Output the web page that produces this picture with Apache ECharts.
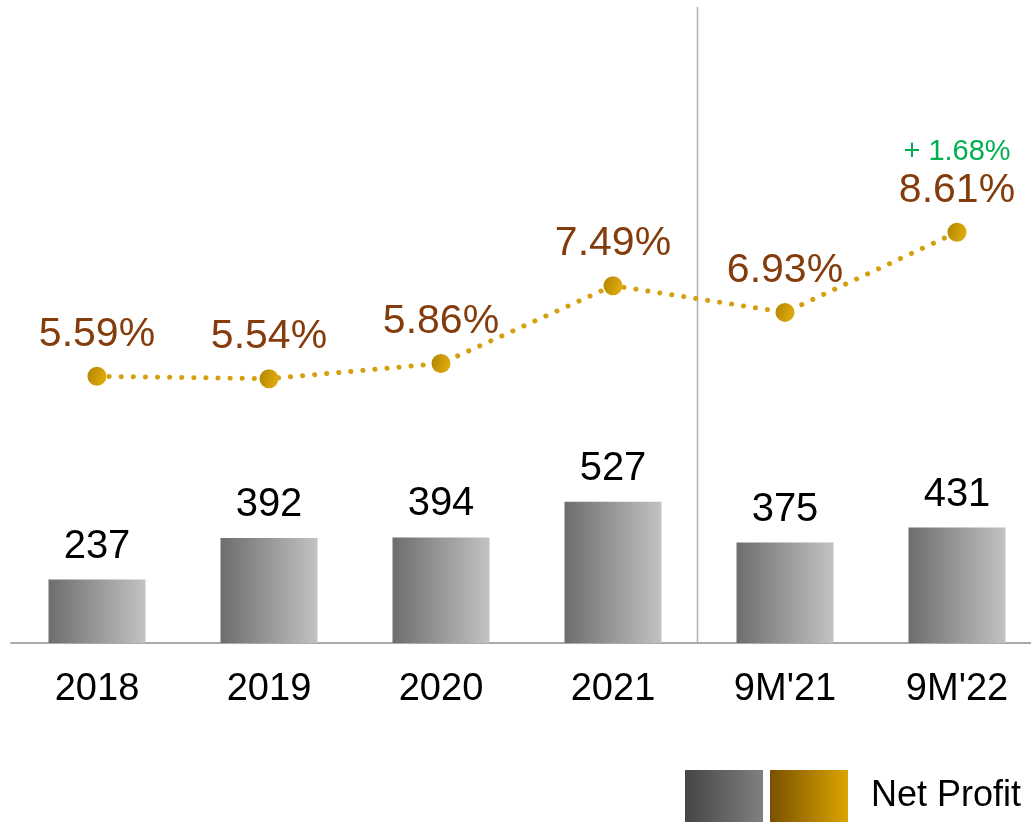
<!DOCTYPE html>
<html>
<head>
<meta charset="utf-8">
<script src="https://cdn.jsdelivr.net/npm/echarts@6/dist/echarts.min.js"></script>
<style>
  html, body { margin: 0; padding: 0; background: #fff; }
  #chart { width: 1031px; height: 823px; }
</style>
</head>
<body>
<div id="chart"></div>
<script>
  const categories = ['2018', '2019', '2020', '2021', "9M'21", "9M'22"];
  const netProfit = [237, 392, 394, 527, 375, 431];
  const margin = [5.59, 5.54, 5.86, 7.49, 6.93, 8.61];
  const marginChange = '+ 1.68%';

  const chart = echarts.init(document.getElementById('chart'));

  const barGradient = new echarts.graphic.LinearGradient(0, 0, 1, 0, [
    { offset: 0, color: '#6d6d6d' },
    { offset: 1, color: '#c2c2c2' }
  ]);
  const markerGradient = new echarts.graphic.LinearGradient(0, 0, 1, 0.3, [
    { offset: 0, color: '#b08400' },
    { offset: 1, color: '#deaa0c' }
  ]);

  const lineData = margin.map((v, i) => {
    if (i === margin.length - 1) {
      return {
        value: v,
        label: {
          formatter: '{g|' + marginChange + '}\n{b|{c}%}'
        }
      };
    }
    return v;
  });

  const option = {
    animation: false,
    textStyle: { fontFamily: 'Liberation Sans, Arial, sans-serif' },
    grid: { left: 11, width: 1032, top: 8, bottom: 180, outerBoundsMode: 'none', containLabel: false },
    legend: {
      left: 685,
      top: 770,
      padding: 0,
      itemWidth: 78,
      itemHeight: 52,
      itemGap: 7,
      icon: 'rect',
      selectedMode: false,
      data: [
        {
          name: 'Net Profit Bar',
          itemStyle: {
            color: new echarts.graphic.LinearGradient(0, 0, 1, 0, [
              { offset: 0, color: '#454545' },
              { offset: 1, color: '#808080' }
            ])
          }
        },
        {
          name: 'Net Profit',
          itemStyle: {
            color: new echarts.graphic.LinearGradient(0, 0, 1, 0, [
              { offset: 0, color: '#7a5200' },
              { offset: 1, color: '#dca500' }
            ])
          }
        }
      ],
      formatter: function (name) {
        return name === 'Net Profit' ? name : '';
      },
      textStyle: { fontSize: 36, color: '#000', padding: [4, 0, 0, 18] }
    },
    xAxis: {
      type: 'category',
      data: categories,
      boundaryGap: true,
      axisLine: { lineStyle: { color: '#aaaaaa', width: 2 } },
      axisTick: { show: false },
      axisLabel: { fontSize: 38, color: '#000', margin: 28 }
    },
    yAxis: [
      { type: 'value', min: 0, max: 2370, show: false, splitLine: { show: false } },
      { type: 'value', min: 0, max: 13.31, show: false, splitLine: { show: false } }
    ],
    series: [
      {
        name: 'Net Profit Bar',
        type: 'bar',
        yAxisIndex: 0,
        barWidth: 97,
        data: netProfit,
        itemStyle: { color: barGradient },
        label: {
          show: true,
          position: 'top',
          distance: 13,
          fontSize: 40,
          color: '#000'
        }
      },
      {
        name: 'Net Profit',
        type: 'line',
        yAxisIndex: 1,
        data: lineData,
        symbol: 'circle',
        symbolSize: 19,
        itemStyle: { color: markerGradient },
        lineStyle: { color: '#d4a010', width: 5, type: [0.1, 12], cap: 'round' },
        z: 5,
        label: {
          show: true,
          position: 'top',
          distance: 12,
          formatter: '{c}%',
          fontSize: 41,
          color: '#843c0c',
          rich: {
            g: { fontSize: 29, color: '#00b050', lineHeight: 38 },
            b: { fontSize: 41, color: '#843c0c', lineHeight: 40 }
          }
        }
      }
    ]
  };

  chart.setOption(option);

  // separator between full years and nine-month figures
  const x3 = chart.convertToPixel({ xAxisIndex: 0 }, categories[3]);
  const x4 = chart.convertToPixel({ xAxisIndex: 0 }, categories[4]);
  const y0 = chart.convertToPixel({ yAxisIndex: 0 }, 0);
  const sepX = Math.round((x3 + x4) / 2) - 1.5;
  chart.setOption({
    graphic: [{
      type: 'line',
      z: 0,
      shape: { x1: sepX, y1: 7, x2: sepX, y2: y0 },
      style: { stroke: '#b0b0b0', lineWidth: 1.5 }
    }]
  });
</script>
</body>
</html>
